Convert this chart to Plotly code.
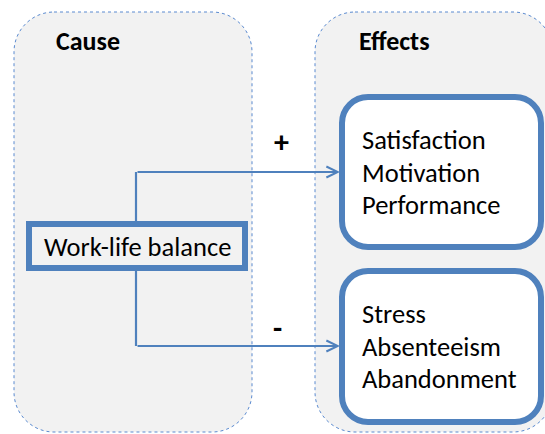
import plotly.graph_objects as go

W, H = 545, 434
BLUE = "#4f81bd"
GREY = "#f2f2f2"
FONT = "Calibri, Carlito, Lato, sans-serif"

# ---- diagram content ----
group_titles = ["Cause", "Effects"]
cause_label = "Work-life balance"
effect_signs = ["+", "-"]
positive_effects = ["Satisfaction", "Motivation", "Performance"]
negative_effects = ["Stress", "Absenteeism", "Abandonment"]


def rounded_rect(x0, y0, x1, y1, r):
    k = 0.5523 * r
    return (
        f"M{x0 + r},{y0} L{x1 - r},{y0} "
        f"C{x1 - r + k},{y0} {x1},{y0 + r - k} {x1},{y0 + r} "
        f"L{x1},{y1 - r} "
        f"C{x1},{y1 - r + k} {x1 - r + k},{y1} {x1 - r},{y1} "
        f"L{x0 + r},{y1} "
        f"C{x0 + r - k},{y1} {x0},{y1 - r + k} {x0},{y1 - r} "
        f"L{x0},{y0 + r} "
        f"C{x0},{y0 + r - k} {x0 + r - k},{y0} {x0 + r},{y0} Z"
    )


fig = go.Figure()
fig.add_trace(go.Scatter(x=[0], y=[0], mode="markers", marker=dict(opacity=0),
                         hoverinfo="skip", showlegend=False))

shapes = []
# group containers
containers = [(14, 12, 252, 432), (315, 12, 553, 432)]
for (x0, y0, x1, y1) in containers:
    shapes.append(dict(type="path", path=rounded_rect(x0, y0, x1, y1, 40),
                       xref="x", yref="y", fillcolor=GREY,
                       line=dict(color="#5a8ad0", width=1, dash="dot")))

# connector trunk
shapes.append(dict(type="line", xref="x", yref="y", x0=136, x1=136, y0=172, y1=346,
                   line=dict(color=BLUE, width=2.2)))
# cause box
shapes.append(dict(type="rect", xref="x", yref="y", x0=29, x1=245, y0=224, y1=268,
                   fillcolor=GREY, line=dict(color=BLUE, width=6)))
# effect boxes
effect_boxes = [(342, 97, 541, 247), (342, 271, 541, 422)]
for (x0, y0, x1, y1) in effect_boxes:
    shapes.append(dict(type="path", path=rounded_rect(x0, y0, x1, y1, 26),
                       xref="x", yref="y", fillcolor="white",
                       line=dict(color=BLUE, width=6)))

annotations = []
# titles
for t, x in zip(group_titles, [54, 357]):
    annotations.append(dict(text=f"<b>{t}</b>", x=x, y=41, xref="x", yref="y",
                            xanchor="left", yanchor="middle", showarrow=False,
                            font=dict(family=FONT, size=26, color="black")))
# cause label
annotations.append(dict(text=cause_label, x=137, y=247, xref="x", yref="y",
                        xanchor="center", yanchor="middle", showarrow=False,
                        font=dict(family=FONT, size=26.5, color="black")))
# arrows
for yy in [172, 346]:
    annotations.append(dict(x=340, y=yy, ax=136, ay=yy, xref="x", yref="y",
                            axref="x", ayref="y", text="", showarrow=True,
                            arrowhead=5, arrowsize=1.0, arrowwidth=2.2,
                            arrowcolor=BLUE, standoff=0))
# signs
for s, (x, y) in zip(effect_signs, [(281, 141), (277, 327)]):
    annotations.append(dict(text=f"<b>{s}</b>", x=x, y=y, xref="x", yref="y",
                            xanchor="center", yanchor="middle", showarrow=False,
                            font=dict(family=FONT, size=30, color="black")))
# effect lists
for items, y0 in [(positive_effects, 140), (negative_effects, 314)]:
    for i, t in enumerate(items):
        annotations.append(dict(text=t, x=360, y=y0 + i * 32.5, xref="x", yref="y",
                                xanchor="left", yanchor="middle", showarrow=False,
                                font=dict(family=FONT, size=26.5, color="black")))

fig.update_layout(
    width=W, height=H, autosize=False,
    margin=dict(l=0, r=0, t=0, b=0),
    paper_bgcolor="white", plot_bgcolor="white",
    xaxis=dict(range=[0, W], visible=False, fixedrange=True),
    yaxis=dict(range=[H, 0], visible=False, fixedrange=True),
    shapes=shapes, annotations=annotations, showlegend=False,
)
fig.write_html("out.html", config={"displayModeBar": False},
               post_script="document.body.style.margin='0';document.body.style.overflow='hidden';")
